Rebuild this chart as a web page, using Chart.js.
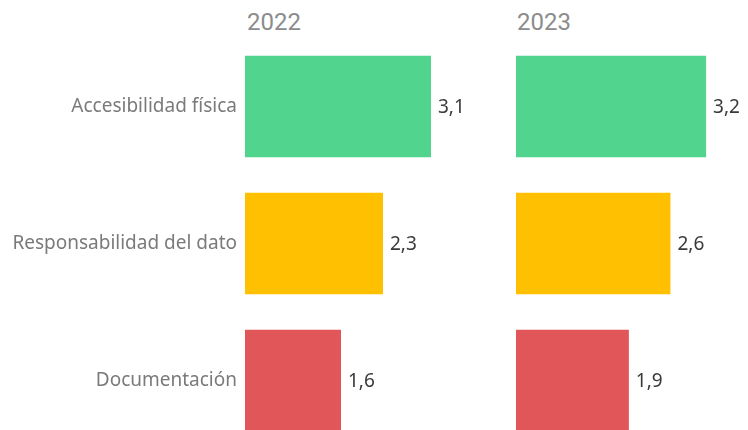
<!DOCTYPE html>
<html>
<head>
<meta charset="utf-8">
<script src="https://cdn.jsdelivr.net/npm/chart.js@4"></script>
<style>
  html, body { margin: 0; padding: 0; background: #fff; }
  #wrap { position: relative; width: 748px; height: 430px; overflow: hidden; }
  .year { position: absolute; top: 8px; font-family: "Roboto", sans-serif; font-size: 24px; color: #8c8c8c; }
  canvas { position: absolute; top: 0; }
</style>
</head>
<body>
<div id="wrap">
  <div class="year" id="y1" style="left:247px"></div>
  <div class="year" id="y2" style="left:517px"></div>
  <canvas id="c1" style="left:0px"></canvas>
  <canvas id="c2" style="left:516px"></canvas>
</div>
<script>
const categories = ['Accesibilidad física', 'Responsabilidad del dato', 'Documentación'];
const years = ['2022', '2023'];
const values2022 = [3.1, 2.3, 1.6];
const values2023 = [3.2, 2.6, 1.9];
const barColors = ['#50d48e', '#fec000', '#e15759'];

document.getElementById('y1').textContent = years[0];
document.getElementById('y2').textContent = years[1];

// draws "3,1" style labels right of each bar
const valueLabels = {
  id: 'valueLabels',
  afterDatasetsDraw(chart) {
    const ctx = chart.ctx;
    ctx.save();
    ctx.font = '19px "Noto Sans", sans-serif';
    ctx.fillStyle = '#3a3a3a';
    ctx.textBaseline = 'middle';
    chart.getDatasetMeta(0).data.forEach((bar, i) => {
      const v = chart.data.datasets[0].data[i];
      ctx.fillText(String(v).replace('.', ','), bar.x + 7, bar.y + 1);
    });
    ctx.restore();
  }
};

function buildPanel(id, values, w, xMax, showLabels) {
  const cv = document.getElementById(id);
  cv.width = w;
  cv.height = 449;
  cv.style.width = w + 'px';
  cv.style.height = '449px';
  return new Chart(cv.getContext('2d'), {
    type: 'bar',
    data: {
      labels: categories,
      datasets: [{
        data: values,
        backgroundColor: barColors,
        categoryPercentage: 0.74,
        barPercentage: 1
      }]
    },
    options: {
      indexAxis: 'y',
      responsive: false,
      animation: false,
      layout: { padding: { top: 38, bottom: 0, left: 0, right: 0 } },
      plugins: { legend: { display: false }, tooltip: { enabled: false } },
      scales: {
        x: { display: false, min: 0, max: xMax },
        y: {
          display: showLabels,
          grid: { display: false, drawTicks: false },
          border: { display: false },
          ticks: {
            color: '#7a7a7a',
            padding: 8,
            font: { family: '"Noto Sans", sans-serif', size: 19 }
          },
          afterFit(scale) {
            if (showLabels) scale.width = 245;
            scale.paddingTop = 0;
            scale.paddingBottom = 0;
          }
        }
      }
    },
    plugins: [valueLabels]
  });
}

buildPanel('c1', values2022, 515, 4.5, true);
buildPanel('c2', values2023, 300, 5.05, false);
</script>
</body>
</html>
